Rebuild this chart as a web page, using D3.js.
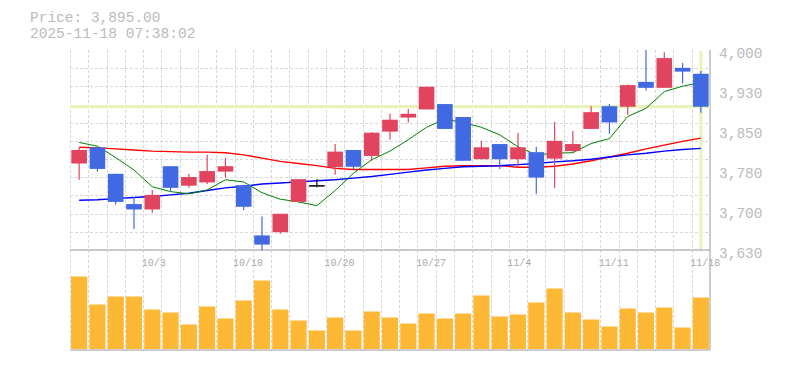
<!DOCTYPE html>
<html>
<head>
<meta charset="utf-8">
<title>chart</title>
<script src="https://cdnjs.cloudflare.com/ajax/libs/d3/7.8.5/d3.min.js"></script>
<style>
  body { margin: 0; background: #fff; }
  svg text { font-family: "Liberation Mono", "DejaVu Sans Mono", monospace; }
</style>
</head>
<body>
<script>
// --- data ---
var dates = ["9/29","9/30","10/1","10/2","10/3","10/6","10/7","10/8","10/9","10/10",
  "10/14","10/15","10/16","10/17","10/20","10/21","10/22","10/23","10/24","10/27",
  "10/28","10/29","10/30","10/31","11/4","11/5","11/6","11/7","11/10","11/11",
  "11/12","11/13","11/14","11/17","11/18"];
var opens  = [3790,3820,3771,3715,3705,3785,3749,3755,3775,3750,3657,3663,3719,3750,3783,3815,3804,3849,3875,3890,
  3900,3876,3798,3826,3798,3811,3799,3813,3854,3896,3895,3941,3930,3967,3956];
var highs  = [3820,3820,3771,3728,3741,3785,3771,3806,3800,3750,3692,3697,3761,3761,3826,3815,3848,3882,3891,3932,
  3900,3876,3832,3826,3847,3821,3867,3850,3896,3900,3936,4000,3996,3976,3961];
var lows   = [3760,3775,3714,3669,3699,3738,3745,3752,3764,3704,3630,3660,3719,3746,3769,3779,3795,3834,3866,3890,
  3854,3795,3798,3780,3783,3734,3745,3809,3854,3845,3880,3925,3930,3938,3884];
var closes = [3815,3780,3719,3705,3732,3745,3765,3776,3785,3710,3640,3697,3761,3750,3812,3784,3847,3871,3882,3932,
  3854,3795,3820,3798,3820,3764,3832,3826,3885,3866,3935,3930,3985,3960,3895];
var volumes = [1450,890,1050,1050,790,730,490,850,610,970,1370,790,570,370,630,370,750,630,510,710,
  610,710,1070,650,690,930,1210,730,590,450,810,730,830,430,1030];
var ma5  = [3829,3822,3801,3778,3747,3738,3734,3741,3760,3756,3736,3724,3719,3712,3740,3772,3797,3813,3834,3857,
  3872,3866,3857,3843,3821,3806,3809,3810,3827,3836,3877,3892,3923,3933,3940];
var ma25 = [3820,3819,3817,3815,3813,3812,3811,3811,3810,3806,3800,3794,3790,3786,3781,3779,3779,3779,3779,3782,
  3785,3786,3786,3786,3783,3783,3785,3789,3795,3802,3809,3817,3824,3831,3837];
var ma75 = [3722,3723,3725,3727,3729,3732,3735,3740,3745,3748,3752,3754,3756,3758,3760,3763,3766,3770,3774,3778,
  3781,3784,3785,3786,3788,3790,3793,3795,3798,3802,3806,3809,3813,3816,3818];
var yTickValues = [3630,3704,3778,3852,3926,4000];
var yTickLabels = ["3,630","3,700","3,780","3,850","3,930","4,000"];
var xTickLabels = ["10/3","10/10","10/20","10/27","11/4","11/11","11/18"];
var lastPrice = 3895;
var headerLines = ["Price: 3,895.00", "2025-11-18 07:38:02"];

var svg = d3.select("body").append("svg").attr("width", 785).attr("height", 370);

var x = d3.scaleBand().domain(dates).range([70, 710]).padding(0);
var y = d3.scaleLinear().domain([3630, 4000]).range([250, 50]);
var yv = d3.scaleLinear().domain([0, 1600]).range([349, 269]);
var bw = x.bandwidth();
function cx(d) { return x(d) + bw / 2; }

// grid
var grid = svg.append("g").attr("stroke", "#d8d8d8").attr("stroke-dasharray", "3,2").attr("stroke-width", 1);
grid.selectAll("line.v").data(dates).enter().append("line")
  .attr("x1", function (d) { return Math.round(x(d)) + 0.5; })
  .attr("x2", function (d) { return Math.round(x(d)) + 0.5; })
  .attr("y1", 50).attr("y2", 350);
var hTicks = d3.range(11).map(function (j) { return 3630 + j * 370 / 11; });
grid.selectAll("line.h").data(hTicks).enter().append("line")
  .attr("x1", 70).attr("x2", 710)
  .attr("y1", function (d) { return Math.round(y(d)) + 0.5; })
  .attr("y2", function (d) { return Math.round(y(d)) + 0.5; });

// frame
var frame = svg.append("g").attr("stroke", "#bbb").attr("stroke-width", 1.5);
frame.append("line").attr("x1", 70).attr("x2", 710).attr("y1", 250).attr("y2", 250);
frame.append("line").attr("x1", 70).attr("x2", 710).attr("y1", 350).attr("y2", 350);
frame.append("line").attr("x1", 710).attr("x2", 710).attr("y1", 50).attr("y2", 350);

// current price markers
svg.append("line").attr("x1", 70).attr("x2", 710)
  .attr("y1", y(lastPrice)).attr("y2", y(lastPrice))
  .attr("stroke", "#e6f4b6").attr("stroke-width", 3);
svg.append("line")
  .attr("x1", cx(dates[dates.length - 1])).attr("x2", cx(dates[dates.length - 1]))
  .attr("y1", 51).attr("y2", 249)
  .attr("stroke", "#e6f4b6").attr("stroke-width", 3);

// volume
svg.selectAll("rect.vol").data(dates).enter().append("rect")
  .attr("x", function (d) { return cx(d) - 8.1; })
  .attr("width", 16.2)
  .attr("y", function (d, i) { return yv(volumes[i]); })
  .attr("height", function (d, i) { return 349 - yv(volumes[i]); })
  .attr("fill", "#fdb835");

// moving averages
function maLine(arr, color, w) {
  var line = d3.line()
    .x(function (d) { return cx(d); })
    .y(function (d, i) { return y(arr[i]); });
  svg.append("path").datum(dates).attr("d", line)
    .attr("fill", "none").attr("stroke", color).attr("stroke-width", w);
}
maLine(ma25, "#ff0000", 1.4);
maLine(ma75, "#0000ff", 1.4);
maLine(ma5, "#008000", 1);

// candles
function candleColor(i) {
  if (closes[i] > opens[i]) return "#e0445f";
  if (closes[i] < opens[i]) return "#4169e1";
  return "#000";
}
var candles = svg.selectAll("g.candle").data(dates).enter().append("g");
candles.append("line")
  .attr("x1", function (d) { return cx(d); })
  .attr("x2", function (d) { return cx(d); })
  .attr("y1", function (d, i) { return y(highs[i]); })
  .attr("y2", function (d, i) { return y(lows[i]); })
  .attr("stroke", function (d, i) { return candleColor(i); })
  .attr("stroke-width", 1.2);
candles.append("rect")
  .attr("x", function (d) { return cx(d) - 7.8; })
  .attr("width", 15.6)
  .attr("y", function (d, i) { return y(Math.max(opens[i], closes[i])); })
  .attr("height", function (d, i) { return Math.max(1.5, Math.abs(y(opens[i]) - y(closes[i]))); })
  .attr("fill", function (d, i) { return candleColor(i); });

// axes
var yAxis = svg.append("g").attr("transform", "translate(710,0)")
  .call(d3.axisRight(y).tickValues(yTickValues).tickSize(0).tickPadding(9)
    .tickFormat(function (d, i) { return yTickLabels[i]; }));
yAxis.select(".domain").remove();
yAxis.selectAll("text").attr("dy", "0.53em").attr("fill", "#bbb").attr("font-size", 14.5);

var xAxis = svg.append("g").attr("transform", "translate(0,266)")
  .call(d3.axisBottom(x).tickValues(xTickLabels).tickSize(0));
xAxis.select(".domain").remove();
xAxis.selectAll("text").attr("y", 0).attr("dy", null)
  .attr("x", -bw / 2 - 1.5).attr("text-anchor", "start")
  .attr("fill", "#aaa").attr("font-size", 10);

// header
svg.selectAll("text.head").data(headerLines).enter().append("text")
  .attr("x", 30).attr("y", function (d, i) { return 22 + i * 15.7; })
  .attr("fill", "#bbb").attr("font-size", 14.5)
  .text(function (d) { return d; });
</script>
</body>
</html>
